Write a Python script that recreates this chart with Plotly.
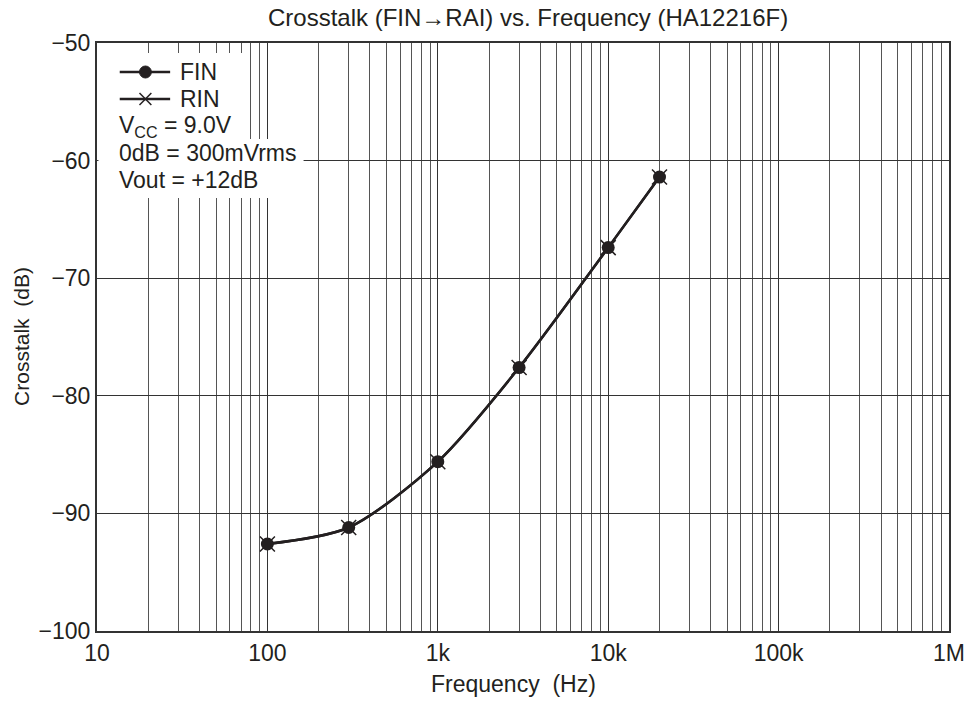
import plotly.graph_objects as go

# ---- data ----
freq_hz = [100, 300, 1000, 3000, 10000, 20000]
fin_db = [-92.6, -91.2, -85.6, -77.6, -67.4, -61.4]
rin_db = [-92.6, -91.2, -85.6, -77.6, -67.4, -61.4]

x_major = [10, 100, 1000, 10000, 100000, 1000000]
x_major_text = ["10", "100", "1k", "10k", "100k", "1M"]
y_ticks = [-100, -90, -80, -70, -60, -50]
y_tick_text = ["\u2212100", "\u221290", "\u221280", "\u221270", "\u221260", "\u221250"]

x_minor = [m * 10 ** e for e in range(1, 6) for m in range(2, 10)]

W, H = 977, 704
L, R, T, B = 97, 18, 43, 73
PW, PH = W - L - R, H - T - B

def px(x):
    return (x - L) / PW

def py(y):
    return (H - B - y) / PH

INK = "#231f20"
FONT = "Liberation Sans, Arial, sans-serif"
FS = 23

fig = go.Figure()
fig.add_trace(go.Scatter(
    x=freq_hz, y=rin_db, name="RIN", mode="lines+markers",
    line=dict(color=INK, width=2.5, shape="spline", smoothing=0.8),
    marker=dict(symbol="x-thin-open", size=15, line=dict(color=INK, width=1.5)),
    showlegend=False))
fig.add_trace(go.Scatter(
    x=freq_hz, y=fin_db, name="FIN", mode="lines+markers",
    line=dict(color=INK, width=2.5, shape="spline", smoothing=0.8),
    marker=dict(symbol="circle", size=13, color=INK),
    showlegend=False))

shapes = []
# white legend background
shapes.append(dict(type="rect", xref="paper", yref="paper", layer="above",
                   x0=px(98.5), x1=px(250), y0=py(140), y1=py(53),
                   fillcolor="white", line=dict(width=0)))
shapes.append(dict(type="rect", xref="paper", yref="paper", layer="above",
                   x0=px(98.5), x1=px(306), y0=py(198), y1=py(139),
                   fillcolor="white", line=dict(width=0)))
# legend samples
shapes.append(dict(type="line", xref="paper", yref="paper", layer="above",
                   x0=px(120), x1=px(171), y0=py(72), y1=py(72),
                   line=dict(color=INK, width=2.5)))
shapes.append(dict(type="circle", xref="paper", yref="paper", layer="above",
                   x0=px(140), x1=px(152), y0=py(78), y1=py(66),
                   fillcolor=INK, line=dict(color=INK, width=1)))
shapes.append(dict(type="line", xref="paper", yref="paper", layer="above",
                   x0=px(120), x1=px(171), y0=py(99), y1=py(99),
                   line=dict(color=INK, width=2.5)))
shapes.append(dict(type="line", xref="paper", yref="paper", layer="above",
                   x0=px(140), x1=px(152), y0=py(105), y1=py(93),
                   line=dict(color=INK, width=1.5)))
shapes.append(dict(type="line", xref="paper", yref="paper", layer="above",
                   x0=px(140), x1=px(152), y0=py(93), y1=py(105),
                   line=dict(color=INK, width=1.5)))

ann = []
def text(x, y, s, anchor="left", angle=0, size=FS):
    ann.append(dict(x=px(x), y=py(y), xref="paper", yref="paper", text=s,
                    showarrow=False, xanchor=anchor, yanchor="middle",
                    textangle=angle, font=dict(family=FONT, size=size, color=INK)))

text(179, 72, "FIN")
text(179, 99, "RIN")
text(117, 126, "V<sub>CC</sub> = 9.0V")
text(117, 153, "0dB = 300mVrms")
text(117, 180, "Vout = +12dB")
text(533, 18, "Crosstalk (FIN\u2192RAI) vs. Frequency (HA12216F)", anchor="center", size=24)
text(518, 684, "Frequency  (Hz)", anchor="center")
text(20, 336, "Crosstalk  (dB)", anchor="center", angle=-90, size=21)

fig.update_layout(
    width=W, height=H,
    margin=dict(l=L, r=R, t=T, b=B),
    paper_bgcolor="white", plot_bgcolor="white",
    font=dict(family=FONT, size=FS, color=INK),
    shapes=shapes, annotations=ann,
)
fig.update_xaxes(
    type="log", range=[1, 6],
    tickvals=x_major, ticktext=x_major_text,
    ticklabeloverflow="allow",
    showgrid=True, gridcolor="#333", gridwidth=1,
    minor=dict(tickvals=x_minor, showgrid=True, gridcolor="#555", gridwidth=1, ticks=""),
    showline=True, linecolor="#333", linewidth=2, mirror=True,
    ticks="", zeroline=False,
    tickfont=dict(family=FONT, size=FS, color=INK),
)
fig.update_yaxes(
    range=[-100, -50],
    tickvals=y_ticks, ticktext=y_tick_text,
    showgrid=True, gridcolor="#333", gridwidth=1,
    showline=True, linecolor="#333", linewidth=2, mirror=True,
    ticks="", zeroline=False,
    tickfont=dict(family=FONT, size=FS, color=INK),
)

fig.write_html("out.html", config={"displayModeBar": False},
               post_script="document.body.style.margin='0';")
